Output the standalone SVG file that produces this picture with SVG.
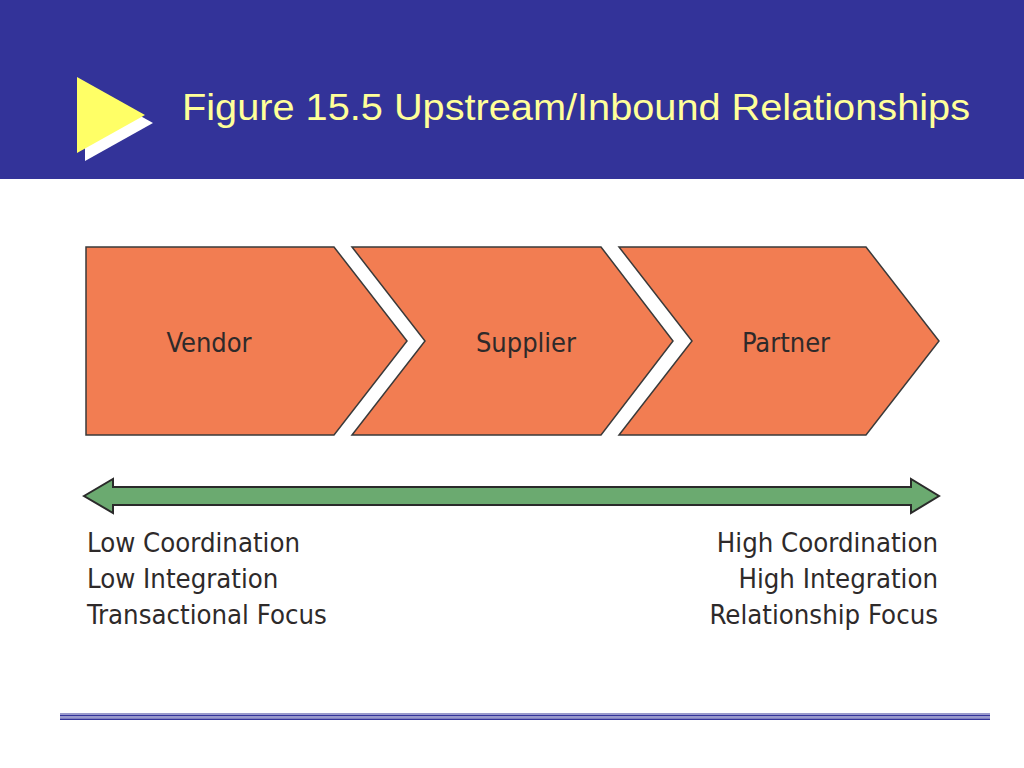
<svg xmlns="http://www.w3.org/2000/svg" width="1024" height="768" viewBox="0 0 1024 768">
<style>
.chev{fill:#F27D52;stroke:#3a3a3a;stroke-width:1.5;stroke-linejoin:miter}
.lbl{font-family:"DejaVu Sans Condensed","DejaVu Sans",sans-serif;font-size:27px;fill:#2e2a2a}
.note{font-family:"DejaVu Sans Condensed","DejaVu Sans",sans-serif;font-size:27.3px;fill:#2e2a2a}
.title{font-family:"Liberation Sans",Arial,sans-serif;font-size:37px;fill:#FFFF99}
</style>
<rect x="0" y="0" width="1024" height="768" fill="#ffffff"/>
<g id="header">
<rect x="0" y="0" width="1024" height="179" fill="#333399"/>
<polygon points="85,85 153,123 85,161" fill="#ffffff"/>
<polygon points="77,77 145,115 77,153" fill="#FFFF66"/>
<text class="title" x="182" y="120" textLength="788" lengthAdjust="spacingAndGlyphs">Figure 15.5 Upstream/Inbound Relationships</text>
</g>
<g id="vendor">
<polygon class="chev" points="86,247 334,247 407,341 334,435 86,435"/>
<text class="lbl" x="209" y="352" text-anchor="middle">Vendor</text>
</g>
<g id="supplier">
<polygon class="chev" points="352,247 601,247 673,341 601,435 352,435 425,341"/>
<text class="lbl" x="526" y="352" text-anchor="middle">Supplier</text>
</g>
<g id="partner">
<polygon class="chev" points="619,247 866,247 939,341 866,435 619,435 692,341"/>
<text class="lbl" x="786" y="352" text-anchor="middle">Partner</text>
</g>
<g id="connectors">
<polygon points="84,496 113,479 113,487 911,487 911,479 939,496 911,513 911,505 113,505 113,513" fill="#6BAA70" stroke="#2a2a2a" stroke-width="2" stroke-linejoin="miter"/>
</g>
<g id="left-notes">
<text class="note" x="87" y="552">Low Coordination</text>
<text class="note" x="87" y="588">Low Integration</text>
<text class="note" x="87" y="624">Transactional Focus</text>
</g>
<g id="right-notes">
<text class="note" x="938" y="552" text-anchor="end">High Coordination</text>
<text class="note" x="938" y="588" text-anchor="end">High Integration</text>
<text class="note" x="938" y="624" text-anchor="end">Relationship Focus</text>
</g>
<g id="footer">
<rect x="60" y="713" width="930" height="2" fill="#9999CC"/>
<rect x="60" y="715" width="930" height="1.5" fill="#333399"/>
<rect x="60" y="717" width="930" height="1.5" fill="#9999CC"/>
<rect x="60" y="718.5" width="930" height="1.5" fill="#333399"/>
</g>
</svg>
